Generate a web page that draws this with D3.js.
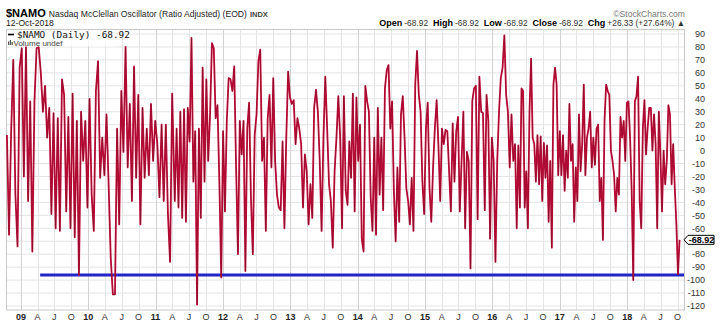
<!DOCTYPE html>
<html><head><meta charset="utf-8">
<script src="https://cdn.jsdelivr.net/npm/d3@7"></script>
<style>body{margin:0;background:#fff;}svg{display:block;font-family:"Liberation Sans",Arial,sans-serif;}</style>
</head><body><svg id="c" width="720" height="324"></svg>
<script>
// ---- data ----
const seg1 = [12,-65,15,70,-34,-74,64,79,-20,80,-39,38,-78,38,79,80,60,30,50,10,33,-49,29,-60,25,-62,55,43,-47,26,-60,44,-67,23,-96,30,-8,23,-44,40,-34,-62,46,69,-21,10,-19,28,-26,-83,-111,-111,17,-57,46,-1,80,-13,36,-39,65,-21,43,-57,33,-21,17,-19,36,-8,23,5,-36,20,-39,20,-49,-86,44];
const seg2 = [-39,17,-44,30,-52,32,-55,33,7,87,-24,15,-119,17,-52,64,-24,55,-8,28,83,79,25,35,-24,-98,15,-47,23,56,55,46,65,-13,-80,23,-3,23,-93,17,37,-37,-80,12,28,69,78,-8,10,-62,25,43,-13,56,-8,-34,-44,-46,7,-60,10,61,41,36,39,5,25,17,5,-44,-3,-16,-57,-26,-52,33,47,30,-8,-62,10,57,17,-26,-39,-75,-16,10,42,10,-60,42];
const seg3 = [-31,-42,7,-21,44,-47,41,-8,20,-68,-78,50,38,30,-36,-62,10,-65,33,-34,10,-46,48,62,66,17,38,-31,-70,-13,-55,28,42,10,-29,-39,-57,-21,-62,51,77,43,30,-24,-49,17,37,-29,-55,-13,17,39,4,-39,17,5,16,15,-16,-47,21,-24,15,26,-47,-8,30,-60,-1,-8,-91,38,48,50,-53,57,30,29,-46,43,23,-68,10,-8,-86,-8,30,56,64,89,43,30,-13,28,-8,5];
const seg4 = [-60,4,-44,48,46,-44,-16,-60,30,71,10,5,-24,12,-26,11,-39,6,-21,4,-55,-8,-75,51,64,51,-19,15,-19,12,-31,0,-21,36,-8,5,-55,-13,-39,28,-16,5,51,-19,10,17,30,-13,10,-11,17,20,-39,-21,-69,23,51,46,43,0,-8,-19,-47,-21,-34,26,10,23,-8,37,38,10,-31,-100,38,42,57,-39,-60,17,39,-3,17,33,33,0,28,5,-60,30,-3,-47,0,-26,-8,35,28,-26,5,-29,-57,-95.25,-68.92];
const segStarts = ["2008-10-17","2011-04-15","2013-10-28","2016-05-12"];
const segEnds   = ["2011-04-01","2013-10-18","2016-05-03","2018-10-12"];
const yTicks = [90,80,70,60,50,40,30,20,10,0,-10,-20,-30,-40,-50,-60,-70,-80,-90,-100,-110,-120];
const yearLabels = ["09","10","11","12","13","14","15","16","17","18"];
const monthLabels = ["A","J","O"];
const supportLevel = -96;
const supportStart = "2009-04-15";
const lastClose = -68.92;

// ---- build series ----
const parse = d3.timeParse("%Y-%m-%d");
const segsVals = [seg1, seg2, seg3, seg4];
const series = [];
segsVals.forEach((vals, i) => {
  const t0 = parse(segStarts[i]).getTime(), t1 = parse(segEnds[i]).getTime();
  vals.forEach((v, j) => series.push({date: new Date(t0 + (t1 - t0) * j / (vals.length - 1)), value: v}));
});

const svg = d3.select("#c");
const L = 6, R = 684, T = 29.5, B = 310;
const x = d3.scaleTime().domain([parse("2008-10-12"), parse("2018-11-05")]).range([L, R]);
const y = d3.scaleLinear().domain([-123.1, 93.5]).range([B, T]);
const py = y(lastClose);

// grid
const g = svg.append("g");
g.selectAll("line.h").data(yTicks).join("line")
  .attr("x1", L).attr("x2", R).attr("y1", d => y(d)).attr("y2", d => y(d))
  .attr("stroke", "#e4e4e4").attr("stroke-width", 1);
const quarters = d3.timeMonth.every(3).range(parse("2009-01-01"), parse("2018-11-01"));
g.selectAll("line.v").data(quarters).join("line")
  .attr("x1", d => Math.round(x(d)) + 0.5).attr("x2", d => Math.round(x(d)) + 0.5).attr("y1", T).attr("y2", B)
  .attr("stroke", d => d.getMonth() === 0 ? "#d2d2d2" : "#e4e4e4").attr("stroke-width", 1);
svg.append("rect").attr("x", L + 0.5).attr("y", T).attr("width", R - L).attr("height", B - T)
  .attr("fill", "none").attr("stroke", "#c8c8c8");

// support line
svg.append("line").attr("x1", x(parse(supportStart))).attr("x2", R).attr("y1", y(supportLevel)).attr("y2", y(supportLevel))
  .attr("stroke", "#2424c8").attr("stroke-width", 3);

// series line
const line = d3.line().x(d => x(d.date)).y(d => y(d.value));
svg.append("path").datum(series).attr("d", line).attr("fill", "none")
  .attr("stroke", "#cc0a3a").attr("stroke-width", 1.8).attr("stroke-linejoin", "round");
svg.append("path").datum(series).attr("d", line).attr("fill", "none")
  .attr("stroke", "#2a1a1a").attr("stroke-width", 0.6).attr("stroke-opacity", 0.45);

// right axis labels (the one under the price tag is hidden, as in the reference)
svg.append("g").selectAll("text").data(yTicks.filter(d => Math.abs(y(d) - py) > 7)).join("text")
  .attr("x", 705).attr("y", d => y(d) + 3.3).attr("text-anchor", "end")
  .attr("font-size", 9).attr("fill", "#333").text(d => d);

// bottom labels
const years = d3.timeYear.range(parse("2009-01-01"), parse("2019-01-01"));
svg.append("g").selectAll("text").data(years).join("text")
  .attr("x", d => x(d)).attr("y", 320).attr("text-anchor", "middle")
  .attr("font-size", 9).attr("font-weight", "bold").attr("fill", "#222")
  .text((d, i) => yearLabels[i]);
const qm = quarters.filter(d => d.getMonth() !== 0);
svg.append("g").selectAll("text").data(qm).join("text")
  .attr("x", d => x(d)).attr("y", 320).attr("text-anchor", "middle")
  .attr("font-size", 9).attr("fill", "#333")
  .text(d => monthLabels[d.getMonth() / 3 - 1]);

// price tag
svg.append("path").attr("d", `M${R},${py} L${R + 4},${py - 4.5} L${R + 30},${py - 4.5} L${R + 30},${py + 4.5} L${R + 4},${py + 4.5} Z`)
  .attr("fill", "#fff").attr("stroke", "#000").attr("stroke-width", 1);
svg.append("text").attr("x", R + 17.5).attr("y", py + 3.3).attr("text-anchor", "middle")
  .attr("font-size", 9).attr("font-weight", "bold").attr("fill", "#000").text(lastClose.toFixed(2));

// header
const h = svg.append("text").attr("x", 6).attr("y", 16.5);
h.append("tspan").attr("font-size", 11).attr("font-weight", "bold").attr("fill", "#000").text("$NAMO");
h.append("tspan").attr("dx", 3).attr("font-size", 8.6).attr("fill", "#222").text("Nasdaq McClellan Oscillator (Ratio Adjusted) (EOD)");
h.append("tspan").attr("dx", 3).attr("font-size", 7.5).attr("font-weight", "bold").attr("fill", "#444").text("INDX");
svg.append("text").attr("x", 6).attr("y", 25.5).attr("font-size", 8.6).attr("fill", "#222").text("12-Oct-2018");
svg.append("text").attr("x", 685).attr("y", 16.5).attr("text-anchor", "end").attr("font-size", 8.6).attr("fill", "#777").text("\u00A9StockCharts.com");
const o = svg.append("text").attr("x", 685).attr("y", 25.8).attr("text-anchor", "end").attr("fill", "#000");
[["Open", "-68.92"], ["High", "-68.92"], ["Low", "-68.92"], ["Close", "-68.92"], ["Chg", "+26.33 (+27.64%) \u25B2"]].forEach((p, i) => {
  o.append("tspan").attr("dx", i ? 5 : 0).attr("font-size", 9).attr("font-weight", "bold").text(p[0]);
  o.append("tspan").attr("dx", 2).attr("font-size", 8.4).attr("fill", "#333").text(p[1]);
});

// legend
const lg = svg.append("g");
lg.append("rect").attr("x", 7).attr("y", 30.5).attr("width", 110).attr("height", 16).attr("fill", "#fff").attr("fill-opacity", 0.8);
lg.append("line").attr("x1", 8).attr("x2", 14).attr("y1", 34.5).attr("y2", 34.5).attr("stroke", "#000").attr("stroke-width", 1.6);
lg.append("text").attr("x", 17).attr("y", 37.5).attr("font-family", "DejaVu Sans Mono, monospace").attr("font-size", 9.4).attr("fill", "#111").text("$NAMO (Daily) -68.92");
lg.append("rect").attr("x", 8).attr("y", 41.5).attr("width", 1.2).attr("height", 3.5).attr("fill", "#555");
lg.append("rect").attr("x", 9.8).attr("y", 40).attr("width", 1.2).attr("height", 5).attr("fill", "#555");
lg.append("rect").attr("x", 11.6).attr("y", 42).attr("width", 1.2).attr("height", 3).attr("fill", "#555");
lg.append("text").attr("x", 13.5).attr("y", 46).attr("font-size", 8).attr("fill", "#444").text("Volume undef");
</script></body></html>
